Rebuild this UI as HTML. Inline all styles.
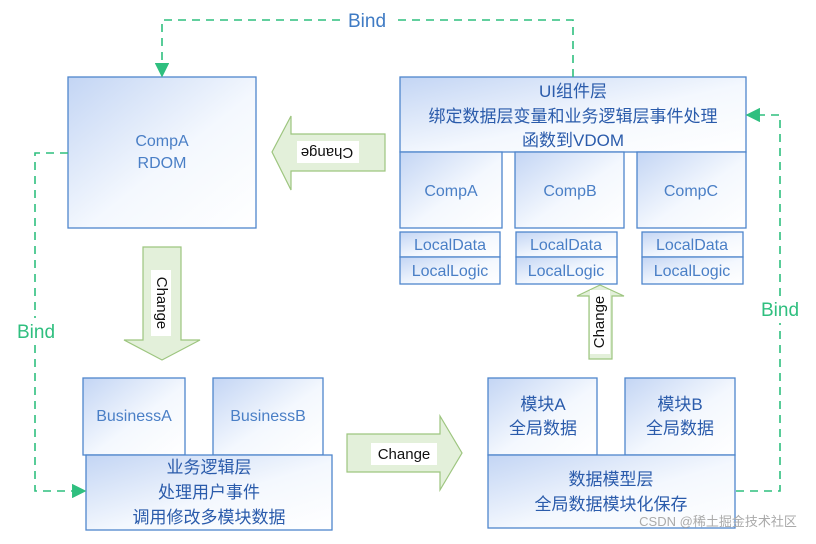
<!DOCTYPE html>
<html><head><meta charset="utf-8"><style>
html,body{margin:0;padding:0;background:#fff;}
svg text{font-family:"Liberation Sans","Noto Sans CJK SC",sans-serif;}
</style></head><body>
<svg width="816" height="539" viewBox="0 0 816 539" xmlns="http://www.w3.org/2000/svg">
<defs>
<linearGradient id="g" x1="0" y1="0" x2="1" y2="1">
<stop offset="0" stop-color="#c3d5f4"/><stop offset="0.55" stop-color="#f4f8fe"/><stop offset="1" stop-color="#ffffff"/>
</linearGradient>
<marker id="ah" viewBox="0 0 10 10" refX="9" refY="5" markerWidth="9" markerHeight="9" orient="auto-start-reverse">
<path d="M0,0 L10,5 L0,10 z" fill="#2fbf7f"/></marker>
</defs>
<g fill="url(#g)" stroke="#4f86cc" stroke-width="1.3">
<rect x="68" y="77" width="188" height="151"/>
<rect x="400" y="77" width="346" height="75"/>
<rect x="400" y="152" width="102" height="76"/>
<rect x="515" y="152" width="109" height="76"/>
<rect x="637" y="152" width="109" height="76"/>
<rect x="400" y="232" width="100" height="25"/><rect x="400" y="257" width="100" height="27"/>
<rect x="516" y="232" width="101" height="25"/><rect x="516" y="257" width="101" height="27"/>
<rect x="642" y="232" width="101" height="25"/><rect x="642" y="257" width="101" height="27"/>
<rect x="83" y="378" width="102" height="77"/>
<rect x="213" y="378" width="110" height="77"/>
<rect x="86" y="455" width="246" height="75"/>
<rect x="488" y="378" width="109" height="77"/>
<rect x="625" y="378" width="110" height="77"/>
<rect x="488" y="455" width="247" height="73"/>
</g>
<g fill="none" stroke="#2fbf7f" stroke-width="1.6" stroke-dasharray="8,6">
<path d="M573,77 L573,20 L395,20"/>
<path d="M340,20 L162,20 L162,76" marker-end="url(#ah)"/>
<path d="M68,153 L35,153 L35,318"/>
<path d="M35,345 L35,491 L85,491" marker-end="url(#ah)"/>
<path d="M736,491 L780,491 L780,323"/>
<path d="M780,296 L780,115 L747,115" marker-end="url(#ah)"/>
</g>
<text x="367" y="27" font-size="19" fill="#3f7bc4" text-anchor="middle">Bind</text>
<text x="36" y="338" font-size="19" fill="#2fbf7f" text-anchor="middle">Bind</text>
<text x="780" y="316" font-size="19" fill="#2fbf7f" text-anchor="middle">Bind</text>
<g fill="#e3f0da" stroke="#9dc57f" stroke-width="1.2">
<path d="M385,134 L291,134 L291,116 L272,152 L291,190 L291,171 L385,171 z"/>
<path d="M143,247 L181,247 L181,340 L200,340 L162,360 L124,340 L143,340 z"/>
<path d="M347,434 L440,434 L440,416 L462,453 L440,490 L440,472 L347,472 z"/>
<path d="M589,359 L612,359 L612,296 L624,296 L600,285 L577,296 L589,296 z"/>
</g>
<g fill="#fff">
<rect x="297" y="141" width="62" height="22"/>
<rect x="151" y="270" width="20" height="66"/>
<rect x="371" y="443" width="66" height="22"/>
<rect x="590" y="290" width="20" height="64"/>
</g>
<g font-size="15" fill="#111">
<text transform="translate(327,152) rotate(180)" text-anchor="middle" dominant-baseline="middle">Change</text>
<text transform="translate(161,303) rotate(90)" text-anchor="middle" dominant-baseline="middle">Change</text>
<text x="404" y="459" text-anchor="middle">Change</text>
<text transform="translate(600,322) rotate(-90)" text-anchor="middle" dominant-baseline="middle">Change</text>
</g>
<g font-size="16" fill="#4a7fc6" text-anchor="middle">
<text x="162" y="146">CompA</text>
<text x="162" y="168">RDOM</text>
<text x="451" y="196">CompA</text>
<text x="570" y="196">CompB</text>
<text x="691" y="196">CompC</text>
<text x="450" y="250">LocalData</text><text x="450" y="276">LocalLogic</text>
<text x="566" y="250">LocalData</text><text x="566" y="276">LocalLogic</text>
<text x="692" y="250">LocalData</text><text x="692" y="276">LocalLogic</text>
<text x="134" y="421">BusinessA</text>
<text x="268" y="421">BusinessB</text>
</g>
<g font-size="17" fill="#2a5bab" text-anchor="middle">
<text x="573" y="97">UI组件层</text>
<text x="573" y="122">绑定数据层变量和业务逻辑层事件处理</text>
<text x="573" y="146">函数到VDOM</text>
<text x="209" y="473">业务逻辑层</text>
<text x="209" y="498">处理用户事件</text>
<text x="209" y="523">调用修改多模块数据</text>
<text x="543" y="410">模块A</text>
<text x="543" y="434">全局数据</text>
<text x="680" y="410">模块B</text>
<text x="680" y="434">全局数据</text>
<text x="611" y="485">数据模型层</text>
<text x="611" y="510">全局数据模块化保存</text>
</g>
<text x="718" y="526" font-size="13" fill="#aaa" text-anchor="middle">CSDN @稀土掘金技术社区</text>
</svg>
</body></html>
